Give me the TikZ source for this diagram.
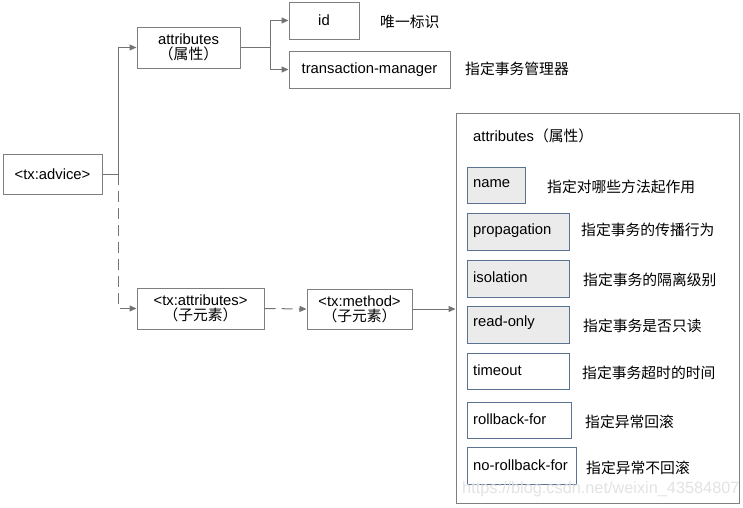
\documentclass[tikz,border=0pt]{standalone}
\usepackage{fontspec}
\setmainfont{Liberation Sans}
\newfontfamily\cjk{Noto Sans CJK SC}
\usetikzlibrary{arrows.meta}
\definecolor{boxgray}{HTML}{7F7F7F}
\definecolor{boxblue}{HTML}{5A7393}
\definecolor{fillgray}{HTML}{EBEBEB}
\definecolor{linegray}{HTML}{737373}
\definecolor{wmgray}{HTML}{E3E3E3}
\begin{document}
\begin{tikzpicture}[x=1pt,y=-1pt,
  font=\fontsize{14.8}{17}\selectfont,
  plainbox/.style={draw=boxgray,line width=1pt,fill=white,inner sep=0pt,align=center},
  attrbox/.style={draw=boxblue,line width=1pt,inner sep=0pt,anchor=north west,text depth=0pt},
  graybox/.style={attrbox,fill=fillgray},
  whitebox/.style={attrbox,fill=white},
  desc/.style={anchor=west,inner sep=0pt,font=\cjk\fontsize{14.8}{17}\selectfont},
  conn/.style={draw=linegray,line width=1pt},
  arr/.style={conn,-{Triangle[length=7pt,width=6pt]}},
  darr/.style={arr,dash pattern=on 11pt off 6pt},
]
\useasboundingbox (0,0) rectangle (743,507);

% left tree
\node[plainbox,minimum width=99pt,minimum height=40pt] (advice) at (52.5,174) {<tx:advice>};
\node[plainbox,minimum width=103pt,minimum height=41pt] (attr) at (188.5,47.5) {attributes\\[-2pt]{\cjk （属性）}};
\node[plainbox,minimum width=70pt,minimum height=37pt] (id) at (324,20.5) {id};
\node[plainbox,minimum width=161pt,minimum height=37pt] (tm) at (369.5,69.5) {transaction-manager};
\node[desc] (idd) at (380,22) {唯一标识};
\node[desc] (tmd) at (465,69) {指定事务管理器};

\node[plainbox,minimum width=127pt,minimum height=41pt] (txattr) at (200.5,308.5) {<tx:attributes>\\[-2pt]{\cjk （子元素）}};
\node[plainbox,minimum width=105pt,minimum height=40pt] (txm) at (359.5,309) {<tx:method>\\[-2pt]{\cjk （子元素）}};

\coordinate (j1) at (118,174);
\coordinate (j2) at (270,47.5);

\draw[conn] (advice.east) -- (j1);
\draw[arr] (j1) |- (attr.west);
\draw[darr] (j1) |- (txattr.west);
\draw[conn] (attr.east) -- (j2);
\draw[arr] (j2) |- (id.west);
\draw[arr] (j2) |- (tm.west);
\draw[darr] (txattr.east) -- (txm.west);

% big box
\node[draw=boxgray,line width=1pt,fill=white,minimum width=283pt,minimum height=390pt,inner sep=0pt] (big) at (597.5,308) {};
\draw[arr] (txm.east) -- (big.west |- txm.east);
\node[anchor=west,inner sep=0pt] (bigt) at (473,136) {attributes{\cjk （属性）}};

\node[graybox,minimum width=58pt,minimum height=36pt] (name) at (467,167) {};
\node[anchor=west,inner sep=0pt] (namet) at (473,184) {name};
\node[desc] (named) at (547,187) {指定对哪些方法起作用};

\node[graybox,minimum width=102pt,minimum height=37pt] (prop) at (467,213) {};
\node[anchor=west,inner sep=0pt] (propt) at (473,231) {propagation};
\node[desc] (propd) at (581,230) {指定事务的传播行为};

\node[graybox,minimum width=102pt,minimum height=37pt] (iso) at (467,260) {};
\node[anchor=west,inner sep=0pt] (isot) at (473,277) {isolation};
\node[desc] (isod) at (583,280) {指定事务的隔离级别};

\node[graybox,minimum width=102pt,minimum height=37pt] (ro) at (467,306) {};
\node[anchor=west,inner sep=0pt] (rot) at (473,323) {read-only};
\node[desc] (rod) at (583,326) {指定事务是否只读};

\node[whitebox,minimum width=102pt,minimum height=36pt] (to) at (467,353) {};
\node[anchor=west,inner sep=0pt] (tot) at (473,370) {timeout};
\node[desc] (tod) at (582,373) {指定事务超时的时间};

\node[whitebox,minimum width=104pt,minimum height=36pt] (rb) at (467,402) {};
\node[anchor=west,inner sep=0pt] (rbt) at (473,419) {rollback-for};
\node[desc] (rbd) at (585,422) {指定异常回滚};

\node[whitebox,minimum width=109pt,minimum height=37pt] (nrb) at (467,447) {};
\node[anchor=west,inner sep=0pt] (nrbt) at (473,465) {no-rollback-for};
\node[desc] (nrbd) at (586,468) {指定异常不回滚};

\node[anchor=west,inner sep=0pt,text=wmgray,font=\fontsize{16.3}{18}\selectfont] (wm) at (462,489) {https://blog.csdn.net/weixin\_43584807};
\end{tikzpicture}
\end{document}
